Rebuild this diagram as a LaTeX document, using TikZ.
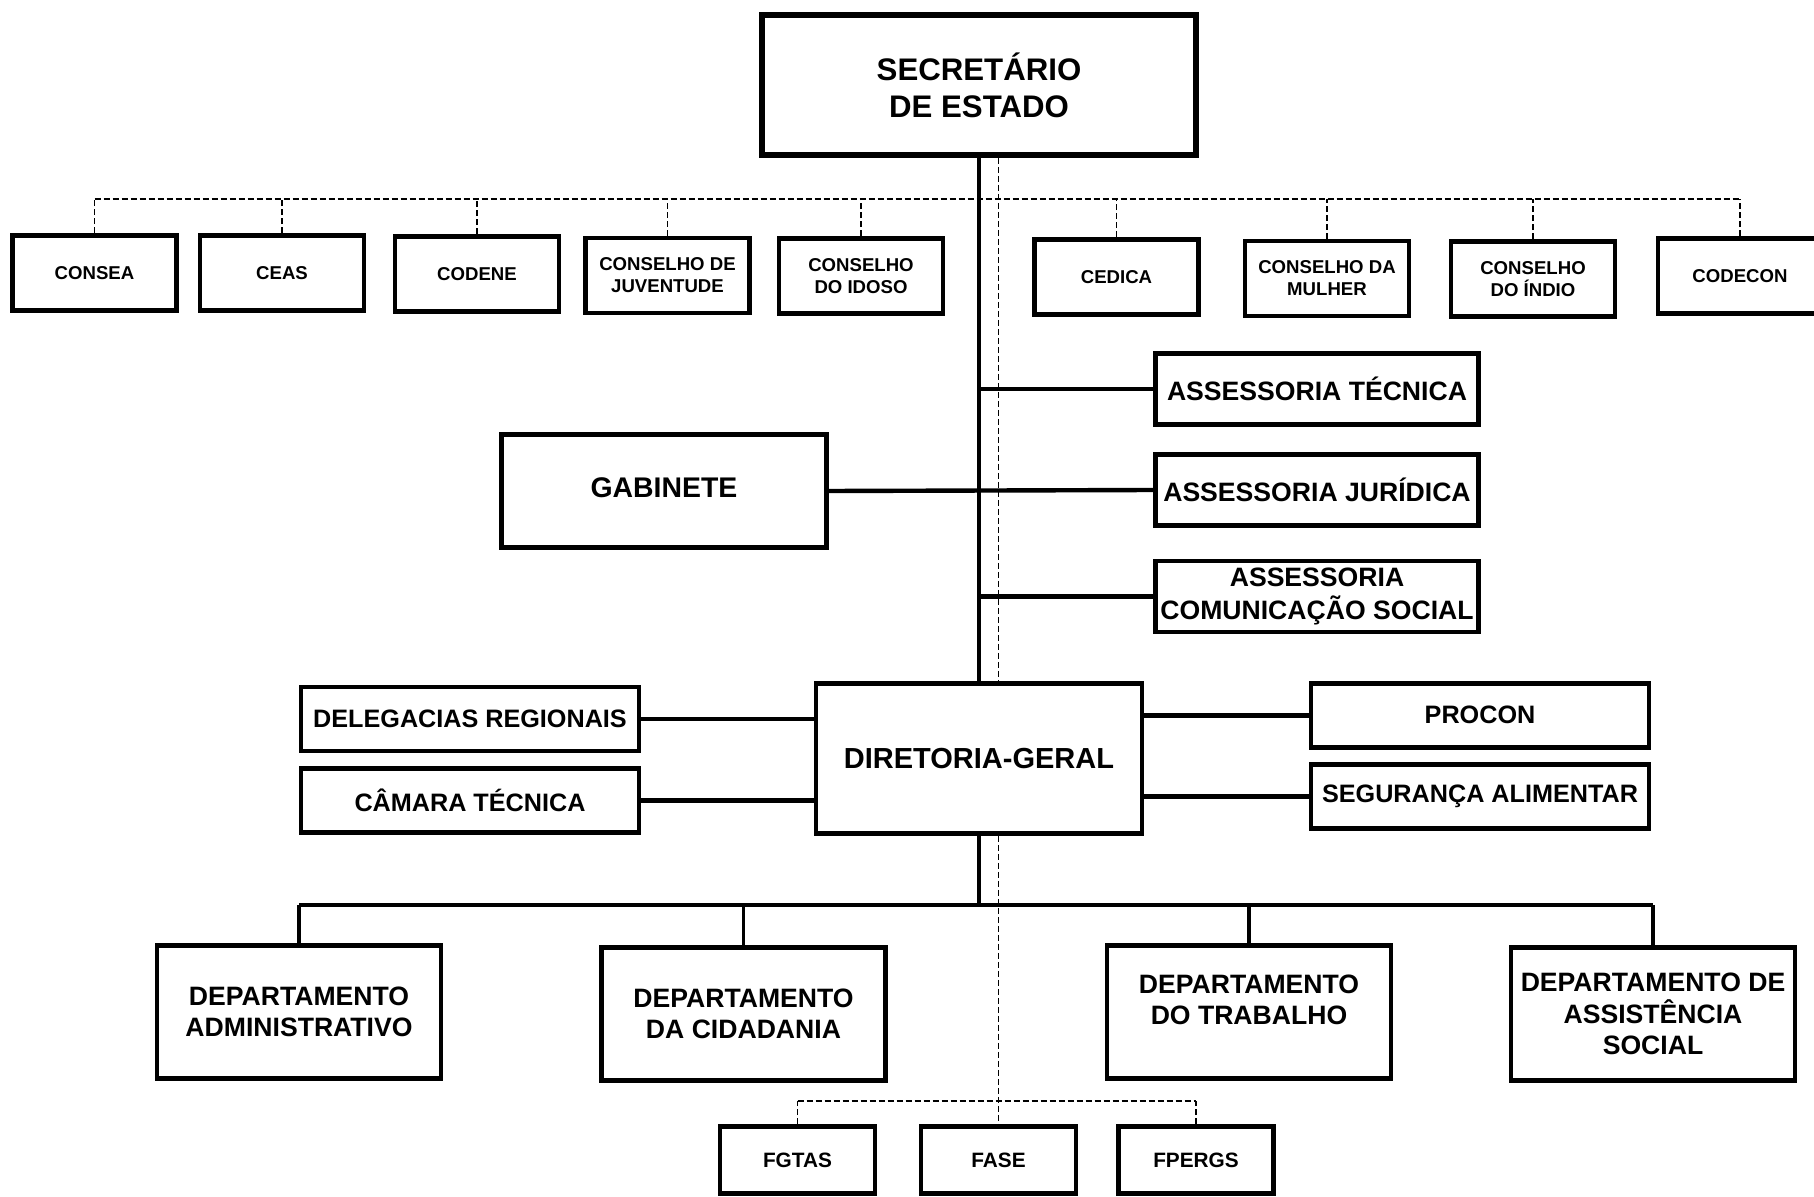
\documentclass[tikz,border=0pt]{standalone}
\usepackage{fontspec}
\setmainfont{Liberation Sans}
\usetikzlibrary{positioning}

\begin{document}
\begin{tikzpicture}[x=0.5pt, y=-0.5pt,
    box/.style={draw, line width=2.4pt, fill=white, align=center, inner sep=0pt},
    conselho/.style={box, minimum width=82pt, minimum height=37.5pt, font=\fontsize{9.3}{11}\selectfont\bfseries},
    assessoria/.style={box, minimum width=161.5pt, minimum height=35.5pt, font=\fontsize{13.3}{16.2}\selectfont\bfseries},
    lateral/.style={box, minimum width=169pt, minimum height=32pt, font=\fontsize{12.6}{15}\selectfont\bfseries},
    departamento/.style={box, minimum width=142pt, minimum height=66.5pt, font=\fontsize{13.3}{15.6}\selectfont\bfseries},
    fundacao/.style={box, minimum width=77.5pt, minimum height=33.5pt, font=\fontsize{10.4}{12}\selectfont\bfseries},
    tie/.style={line width=2.2pt},
    link/.style={line width=0.6pt, dash pattern=on 3pt off 1.5pt}]
    \useasboundingbox (0,0) rectangle (1814,1197);

    % topo
    \node[box, line width=2.8pt, minimum width=217pt, minimum height=70pt,
          font=\fontsize{15.6}{18.5}\selectfont\bfseries] (sec) at (979,85) {SECRETÁRIO\\DE ESTADO};

    % conselhos
    \foreach \n/\x/\y/\t in {consea/94.5/273/CONSEA, ceas/282/273/CEAS, codene/477/274/CODENE,
        juventude/667.5/275.5/CONSELHO DE\\JUVENTUDE, idoso/861/276/CONSELHO\\DO IDOSO,
        cedica/1116.5/277/CEDICA, mulher/1327/278.5/CONSELHO DA\\MULHER,
        indio/1533/279/CONSELHO\\DO ÍNDIO, codecon/1740/276/CODECON}
        \node[conselho] (\n) at (\x,\y) {\t};

    % assessorias e gabinete
    \node[assessoria] (asstec) at (1317,389) {ASSESSORIA TÉCNICA};
    \node[assessoria] (asjur) at (1317,490) {ASSESSORIA JURÍDICA};
    \node[assessoria] (ascom) at (1317,596.5) {ASSESSORIA\\COMUNICAÇÃO SOCIAL};
    \node[box, minimum width=162.5pt, minimum height=56.5pt,
          font=\fontsize{14.2}{17}\selectfont\bfseries] (gab) at (664,491) {\raisebox{3pt}{GABINETE}};

    % diretoria
    \node[box, minimum width=163pt, minimum height=75pt,
          font=\fontsize{14.5}{17}\selectfont\bfseries] (dir) at (979,758.5) {DIRETORIA-GERAL};
    \node[lateral] (deleg) at (470,719) {DELEGACIAS REGIONAIS};
    \node[lateral] (camara) at (470,800.5) {CÂMARA TÉCNICA};
    \node[lateral] (procon) at (1480,715.5) {\raisebox{1pt}{PROCON}};
    \node[lateral] (seg) at (1480,796.5) {SEGURANÇA ALIMENTAR};

    % departamentos
    \node[departamento] (adm) at (299,1012) {DEPARTAMENTO\\ADMINISTRATIVO};
    \node[departamento] (cid) at (743.5,1014) {DEPARTAMENTO\\DA CIDADANIA};
    \node[departamento] (trab) at (1249,1012) {DEPARTAMENTO\\DO TRABALHO\\[-3pt]};
    \node[departamento] (assist) at (1653,1014) {DEPARTAMENTO DE\\ASSISTÊNCIA\\SOCIAL};

    % fundacoes
    \node[fundacao] (fgtas) at (797.5,1160) {FGTAS};
    \node[fundacao] (fase) at (998.5,1160) {FASE};
    \node[fundacao] (fpergs) at (1196,1160) {FPERGS};

    % ligacoes
    \coordinate (bus1) at (979,199);
    \coordinate (bus2) at (979,905);
    \coordinate (bus3) at (998,1101);
    \draw[link] (consea.north |- bus1) -- (codecon.north |- bus1);
    \foreach \n in {consea,ceas,codene,juventude,idoso,cedica,mulher,indio,codecon}
        \draw[link] (\n.north) -- (\n.north |- bus1);
    \draw[link] (fase.north |- sec.south) -- (fase.north |- dir.north);
    \draw[link] (fase.north |- dir.south) -- (fase.north);
    \draw[tie] (sec.south) -- (dir.north);
    \draw[tie] (asstec.west) -- (asstec.west -| sec.south);
    \draw[tie] (gab.east) -- (asjur.west);
    \draw[tie] (ascom.west) -- (ascom.west -| sec.south);
    \draw[tie] (deleg.east) -- (deleg.east -| dir.west);
    \draw[tie] (camara.east) -- (camara.east -| dir.west);
    \draw[tie] (procon.west) -- (procon.west -| dir.east);
    \draw[tie] (seg.west) -- (seg.west -| dir.east);
    \draw[tie] (dir.south) -- (bus2);
    \draw[tie] (adm.north |- bus2) -- (assist.north |- bus2);
    \foreach \n in {adm,cid,trab,assist}
        \draw[line width=1.6pt] (\n.north) -- (\n.north |- bus2);
    \draw[link] (fgtas.north |- bus3) -- (fpergs.north |- bus3);
    \foreach \n in {fgtas,fpergs}
        \draw[link] (\n.north) -- (\n.north |- bus3);
\end{tikzpicture}
\end{document}
